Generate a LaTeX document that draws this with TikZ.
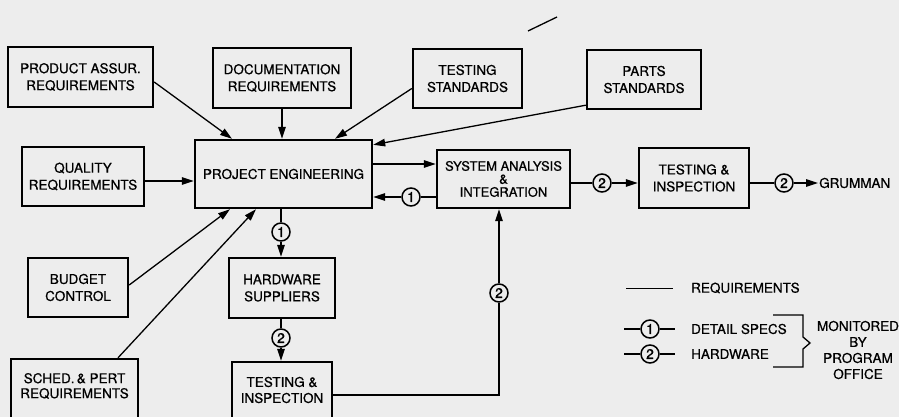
\documentclass[tikz,border=0pt]{standalone}
\usepackage{fontspec}
\setmainfont{TeX Gyre Heros}[FakeBold=0.7]
\usetikzlibrary{arrows.meta,calc}
\definecolor{bg}{gray}{0.93}
\begin{document}
\begin{tikzpicture}[x=1pt,y=-1pt,
  box/.style={draw, line width=2.4pt, align=center, inner sep=2pt, font=\fontsize{13.5}{17}\selectfont},
  txt/.style={align=center, inner sep=1pt, font=\fontsize{13.5}{17}\selectfont},
  circ/.style={circle, draw, line width=1.5pt, fill=bg, inner sep=0pt, minimum size=18pt, font=\fontsize{14}{14}\selectfont},
  con/.style={line width=1.3pt},
  arr/.style={con, -{Triangle[length=12pt,width=7.5pt]}}]
\fill[bg] (0,0) rectangle (899,417);
\useasboundingbox (0,0) rectangle (899,417);
\clip (0,0) rectangle (899,417);

% boxes
\node[box, minimum width=145pt, minimum height=60pt] (pa) at (80.5,77) {PRODUCT ASSUR.\\REQUIREMENTS};
\node[box, minimum width=138pt, minimum height=60pt] (doc) at (282,78) {DOCUMENTATION\\REQUIREMENTS};
\node[box, minimum width=109pt, minimum height=59pt] (ts) at (467.5,78.5) {TESTING\\STANDARDS};
\node[box, minimum width=114pt, minimum height=59pt] (ps) at (644,79.5) {PARTS\\STANDARDS};
\node[box, minimum width=122pt, minimum height=59pt] (qual) at (83,176.5) {QUALITY\\REQUIREMENTS};
\node[box, minimum width=177pt, minimum height=68pt] (pe) at (283.5,174) {PROJECT ENGINEERING};
\node[box, minimum width=133pt, minimum height=58pt, font=\fontsize{13}{13}\selectfont] (sa) at (503.5,179) {SYSTEM ANALYSIS\\\&\\INTEGRATION};
\node[box, minimum width=110pt, minimum height=60pt] (ti1) at (694,178) {TESTING \&\\INSPECTION};
\node[box, minimum width=100pt, minimum height=59pt] (bud) at (78,287.5) {BUDGET\\CONTROL};
\node[box, minimum width=106pt, minimum height=60pt] (hw) at (282,288) {HARDWARE\\SUPPLIERS};
\node[box, minimum width=127pt, minimum height=70pt] (sched) at (74.5,394) {};
\node[txt, font=\fontsize{13.5}{15}\selectfont] (schedt) at (74.5,386) {SCHED.\,\& PERT\\REQUIREMENTS};
\node[box, minimum width=100pt, minimum height=68pt] (ti2) at (282,396) {};
\node[txt, font=\fontsize{13.5}{16}\selectfont] (ti2t) at (282,390) {TESTING \&\\INSPECTION};
\node[txt, anchor=west] (gr) at (818,183) {GRUMMAN};

% inputs to project engineering
\draw[arr] ([yshift=-5pt]pa.east) -- ([xshift=-51.5pt]pe.north);
\draw[arr] (doc.south) -- (doc.south |- pe.north);
\draw[arr] ([yshift=-10pt]ts.west) -- ([xshift=51.5pt]pe.north);
\draw[arr] ([yshift=5pt]ps.south west) -- ([yshift=-6pt]pe.north east);
\draw[arr] ([yshift=-4.5pt]qual.east) -- ([yshift=-4.5pt]qual.east -| pe.west);
\draw[arr] ([yshift=2.5pt]bud.east) -- ([xshift=-53.5pt]pe.south);
\draw[arr] ([xshift=43.5pt]sched.north) -- ([xshift=-27.5pt]pe.south);

% project engineering <-> system analysis
\draw[arr] ([yshift=10pt]pe.east) -- ([yshift=10pt]pe.east -| sa.west);
\node[circ] (c1a) at (411,197) {1};
\draw[con] (sa.west |- c1a) -- (c1a);
\draw[arr] (c1a) -- (pe.east |- c1a);

% system analysis -> testing -> grumman
\node[circ] (c2a) at (602,183) {2};
\draw[con] (sa.east |- c2a) -- (c2a);
\draw[arr] (c2a) -- (ti1.west |- c2a);
\node[circ] (c2b) at (784,183) {2};
\draw[con] (ti1.east |- c2b) -- (c2b);
\draw[arr] (c2b) -- (gr.west);

% project engineering -> hardware -> testing
\node[circ] (c1b) at (281,232) {1};
\draw[con] (pe.south -| c1b) -- (c1b);
\draw[arr] (c1b) -- (hw.north -| c1b);
\node[circ] (c2c) at (281,338) {2};
\draw[con] (hw.south -| c2c) -- (c2c);
\draw[arr] (c2c) -- (ti2.north -| c2c);

% testing -> system analysis
\node[circ] (c2d) at (499,293) {2};
\coordinate (k) at (499,395);
\draw[con] (ti2.east |- k) -- (k) -- (c2d);
\draw[arr] (c2d) -- (sa.south -| c2d);

% stray mark
\draw[con] (528,31) -- (557,17);

% legend
\coordinate (r1) at (626,288);
\coordinate (r2) at (673,288);
\draw[line width=1pt] (r1) -- (r2);
\node[txt, anchor=west] (lreq) at (690,288) {REQUIREMENTS};
\node[circ] (l1) at (650,329) {1};
\coordinate (l1a) at (624,329);
\coordinate (l1b) at (675,329);
\draw[con] (l1a) -- (l1) -- (l1b);
\node[txt, anchor=west] (lds) at (690,329) {DETAIL SPECS};
\node[circ] (l2) at (650,354) {2};
\coordinate (l2a) at (624,354);
\coordinate (l2b) at (675,354);
\draw[con] (l2a) -- (l2) -- (l2b);
\node[txt, anchor=west] (lhw) at (690,354) {HARDWARE};
\draw[con] (773,315) -- (803,315) -- (803,337) -- (810,343) -- (803,349) -- (803,367) -- (773,367);
\node[txt, font=\fontsize{13.5}{16}\selectfont] (mon) at (858,350) {MONITORED\\BY\\PROGRAM\\OFFICE};
\end{tikzpicture}
\end{document}
